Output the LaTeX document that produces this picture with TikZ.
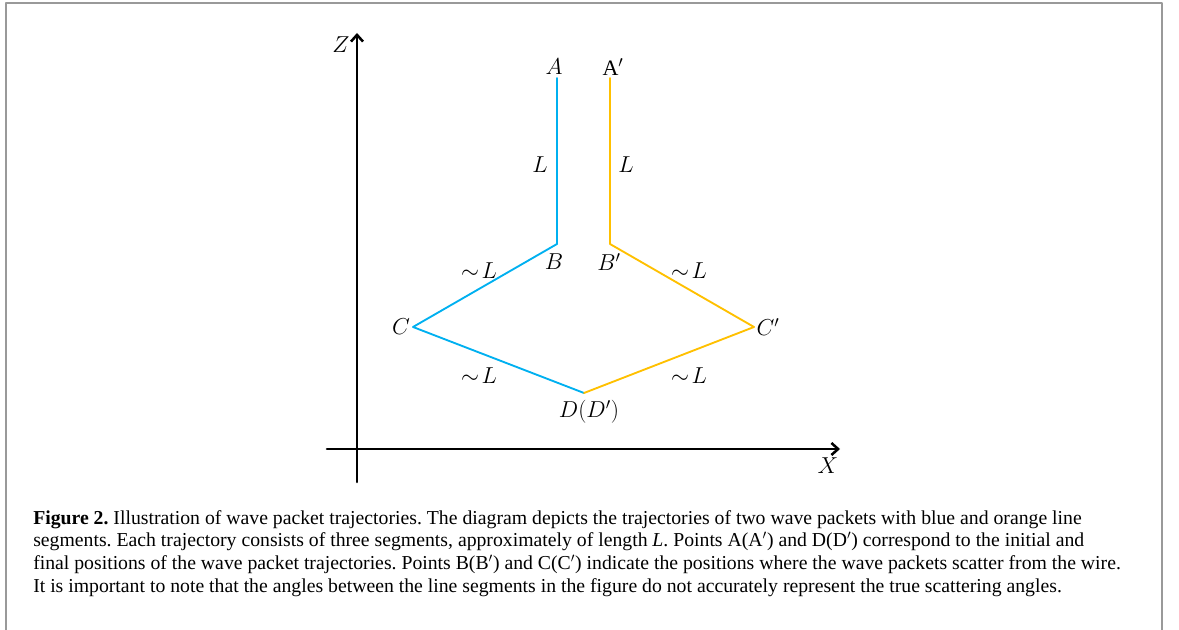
\documentclass[tikz,border=0pt]{standalone}
\usepackage{fontspec}
\setmainfont{Liberation Serif}
\usetikzlibrary{arrows.meta}
\definecolor{wpblue}{RGB}{0,176,240}
\definecolor{wporange}{RGB}{255,192,0}
\frenchspacing
\begin{document}
\begin{tikzpicture}[x=0.75pt, y=-0.75pt, line cap=round, line join=round, font=\fontsize{16.5}{19}\selectfont]
	\tikzset{axis/.style={line width=1.9pt, -{Straight Barb[length=5pt,width=9pt]}},
		path blue/.style={wpblue, line width=1.4pt},
		path orange/.style={wporange, line width=1.4pt},
		caption text/.style={anchor=north west, inner sep=0pt, align=left, font=\fontsize{14.8}{17}\selectfont}}
	\useasboundingbox (0,0) rectangle (1179,630);
	\draw[gray!80, line width=1.5pt] (6,630)--(6,3)--(1162,3)--(1162,630);
	% axes
	\coordinate (zlo) at (357,482);
	\coordinate (ztip) at (357,33);
	\coordinate (xlo) at (327,449);
	\coordinate (xtip) at (840,449);
	\draw[axis] (zlo)--(ztip);
	\draw[axis] (xlo)--(xtip);
	\node (zlab) at (341,45) {$Z$};
	\node (xlab) at (828,466) {$X$};
	% trajectory points
	\coordinate (A) at (557,78);
	\coordinate (B) at (557,244);
	\coordinate (C) at (413,327);
	\coordinate (D) at (584,393);
	\coordinate (A') at (610,78);
	\coordinate (B') at (610,244);
	\coordinate (C') at (754,327);
	\draw[path blue] (A)--(B)--(C)--(D);
	\draw[path orange] (A')--(B')--(C')--(D);
	% point labels
	\node (alab) at (554,67) {$A$};
	\node (aplab) at (613,67) {$\mathrm{A}'$};
	\node (blab) at (554,262) {$B$};
	\node (bplab) at (609,262) {$B'$};
	\node (clab) at (401,327) {$C$};
	\node (cplab) at (768,327) {$C'$};
	\node (dlab) at (589,412) {$D(D')$};
	% lengths
	\node (l1) at (540,165) {$L$};
	\node (l2) at (626,165) {$L$};
	\node (l3) at (479,271) {$\sim\! L$};
	\node (l4) at (689,271) {$\sim\! L$};
	\node (l5) at (479,376) {$\sim\! L$};
	\node (l6) at (689,376) {$\sim\! L$};
	% caption
	\node[caption text] (cap) at (33,510) {\textbf{Figure 2.} Illustration of wave packet trajectories. The diagram depicts the trajectories of two wave packets with blue and orange line\\
		segments. Each trajectory consists of three segments, approximately of length \textit{L}. Points A(A$'$) and D(D$'$) correspond to the initial and\\
		final positions of the wave packet trajectories. Points B(B$'$) and C(C$'$) indicate the positions where the wave packets scatter from the wire.\\
		It is important to note that the angles between the line segments in the figure do not accurately represent the true scattering angles.};
\end{tikzpicture}
\end{document}
